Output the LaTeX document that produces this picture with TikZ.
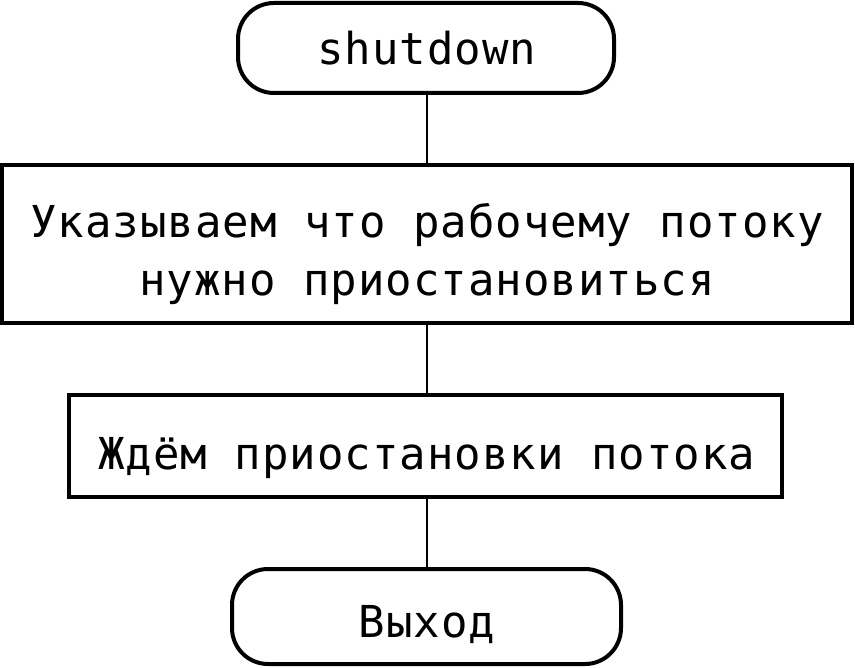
\documentclass[tikz,border=0pt]{standalone}
\usepackage{fontspec}
\setmainfont[LetterSpace=2.3]{DejaVu Sans Mono}
\usetikzlibrary{positioning}
\tikzset{every picture/.style={line width=0.75pt}}
\tikzset{
  caption/.style={font=\fontsize{44}{59}\selectfont, inner sep=0pt, anchor=base},
  terminal/.style={draw, line width=4, rounded corners=36},
  process/.style={draw, line width=4},
  link/.style={line width=2.8}
}

\begin{document}
\begin{tikzpicture}[x=1pt,y=1pt,yscale=-1,xscale=1]
		%uncomment if require: \path (0,668); %set diagram left start at 0, and has height of 668
		\useasboundingbox (0,0) rectangle (855,668);
		
		%Shape: Terminal [id:start]
		\node [terminal, minimum width=376, minimum height=90] (start) at (426,48) {};
		\node [caption] (starttext) at (427,65) {shutdown};
		
		%Shape: Rectangle [id:flag]
		\node [process, minimum width=850, minimum height=158] (flag) at (427,244) {};
		\node [caption] (flagtop) at (427,237.5) {Указываем что рабочему потоку};
		\node [caption] (flagbottom) at (427,296) {нужно приостановиться};
		
		%Shape: Rectangle [id:wait]
		\node [process, minimum width=713, minimum height=102] (wait) at (425.5,446) {};
		\node [caption] (waittext) at (427,469.5) {Ждём приостановки потока};
		
		%Shape: Terminal [id:exit]
		\node [terminal, minimum width=389, minimum height=95] (exit) at (426.5,616.5) {};
		\node [caption] (exittext) at (427,637) {Выход};
		
		%Straight Lines
		\draw [link] (start.south -| flag.north) -- (flag.north);
		\draw [link] (flag.south) -- (flag.south |- wait.north);
		\draw [link] (flag.south |- wait.south) -- (flag.south |- exit.north);
		
\end{tikzpicture}
\end{document}
